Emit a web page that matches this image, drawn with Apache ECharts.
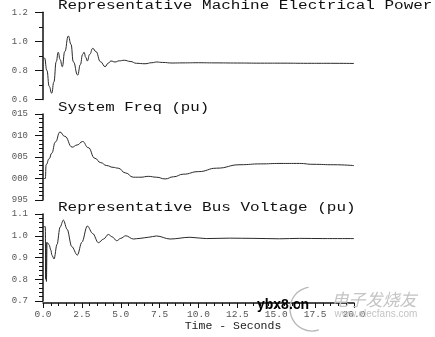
<!DOCTYPE html>
<html>
<head>
<meta charset="utf-8">
<script src="https://cdn.jsdelivr.net/npm/echarts@6/dist/echarts.min.js"></script>
<style>
html,body{margin:0;padding:0;background:#fff;}
#c{width:435px;height:337px;}
</style>
</head>
<body>
<div id="c"></div>
<script>
// ---------- data ----------
var panelTitles = ['Representative Machine Electrical Power', 'System Freq (pu)', 'Representative Bus Voltage (pu)'];
var xAxisTitle = 'Time - Seconds';

var powerTime = [0, 0.1, 0.25, 0.4, 0.56, 0.7, 0.85, 0.98, 1.1, 1.24, 1.4, 1.63, 1.8, 1.95, 2.23, 2.4, 2.55, 2.64, 2.75, 2.85, 3.0, 3.2, 3.4, 3.7, 3.99, 4.2, 4.37, 4.63, 4.9, 5.23, 5.6, 6.02, 6.56, 7.0, 7.3, 7.7, 8.3, 9.0, 10.0, 11.0, 12.5, 14.0, 15.5, 17.0, 18.5, 20.0];
var powerValues = [0.89, 0.885, 0.80, 0.69, 0.643, 0.72, 0.86, 0.925, 0.875, 0.826, 0.93, 1.037, 0.98, 0.86, 0.768, 0.84, 0.91, 0.925, 0.89, 0.865, 0.91, 0.952, 0.93, 0.86, 0.826, 0.85, 0.865, 0.858, 0.866, 0.870, 0.862, 0.849, 0.846, 0.853, 0.858, 0.855, 0.851, 0.852, 0.853, 0.852, 0.851, 0.850, 0.850, 0.849, 0.849, 0.848];

var freqTime = [0, 0.15, 0.2, 0.4, 0.56, 0.8, 1.09, 1.4, 1.88, 2.2, 2.55, 2.9, 3.34, 3.7, 4.10, 4.5, 4.84, 5.3, 5.81, 6.3, 6.77, 7.3, 7.85, 8.4, 9.02, 10.0, 11.17, 12.67, 14.0, 15.24, 16.5, 17.36, 18.7, 20.0];
var freqValues = [1.0000, 1.0000, 1.0032, 1.0046, 1.0059, 1.0085, 1.0108, 1.0098, 1.0073, 1.0078, 1.0086, 1.0072, 1.0047, 1.0037, 1.0030, 1.0026, 1.0024, 1.0013, 1.0003, 1.0003, 1.0005, 1.0003, 0.9999, 1.0004, 1.0010, 1.0016, 1.0024, 1.0032, 1.0034, 1.0035, 1.0035, 1.0033, 1.0032, 1.0030];

var voltTime = [0, 0.15, 0.17, 0.2, 0.22, 0.26, 0.32, 0.4, 0.5, 0.58, 0.71, 0.9, 1.1, 1.31, 1.55, 1.85, 2.21, 2.5, 2.85, 3.2, 3.56, 3.9, 4.2, 4.45, 4.74, 5.0, 5.32, 5.81, 6.24, 6.77, 7.3, 8.17, 9.45, 10.5, 12.0, 13.5, 15.2, 16.5, 18.0, 20.0];
var voltValues = [1.0415, 1.0415, 0.80, 0.97, 0.79, 0.968, 0.966, 0.957, 0.935, 0.91, 0.893, 0.96, 1.04, 1.072, 1.03, 0.95, 0.911, 0.97, 1.045, 1.01, 0.968, 0.985, 1.006, 0.995, 0.977, 0.988, 1.0, 0.985, 0.988, 0.993, 0.999, 0.985, 0.993, 0.987, 0.989, 0.988, 0.986, 0.988, 0.987, 0.987];

var freqTickLabels = ['995', '000', '005', '010', '015'];

// ---------- chart ----------
function pairs(t, v) { return t.map(function (x, i) { return [x, v[i]]; }); }

var labelFont = { fontFamily: 'Liberation Mono, monospace', fontSize: 9, color: '#555' };
var lineCol = '#111';

function yAx(idx, min, max, interval, minorSplit, fmt) {
  return {
    type: 'value', gridIndex: idx, min: min, max: max, interval: interval,
    axisLine: { show: true, lineStyle: { color: lineCol, width: 1.5 } },
    axisTick: { show: true, length: 8, lineStyle: { color: lineCol, width: 1 } },
    minorTick: { show: true, splitNumber: minorSplit, length: 4, lineStyle: { color: lineCol, width: 1 } },
    splitLine: { show: false },
    axisLabel: Object.assign({ margin: 15, formatter: fmt }, labelFont)
  };
}

var chart = echarts.init(document.getElementById('c'), null, { renderer: 'canvas' });
var lineStyle = { color: '#2a2a2a', width: 1 };

chart.setOption({
  animation: false,
  backgroundColor: '#fff',
  grid: [
    { left: 43, width: 311, top: 12.3, height: 87.2 },
    { left: 43, width: 311, top: 114, height: 86 },
    { left: 43, width: 311, top: 214, height: 87 }
  ],
  xAxis: [
    { type: 'value', gridIndex: 0, min: 0, max: 20, show: false },
    { type: 'value', gridIndex: 1, min: 0, max: 20, show: false },
    {
      type: 'value', gridIndex: 2, min: 0, max: 20, interval: 2.5, offset: 2,
      axisLine: { show: true, lineStyle: { color: lineCol, width: 1.5 } },
      axisTick: { show: true, length: 5, lineStyle: { color: lineCol } },
      minorTick: { show: true, splitNumber: 5, length: 3, lineStyle: { color: lineCol } },
      splitLine: { show: false },
      axisLabel: Object.assign({ margin: 6, formatter: function (v) { return v.toFixed(1); } }, labelFont, { fontSize: 9.5 })
    }
  ],
  yAxis: [
    yAx(0, 0.6, 1.2, 0.2, 2, function (v) { return v.toFixed(1); }),
    yAx(1, 0.995, 1.015, 0.005, 5, function (v) { return freqTickLabels[Math.round((v - 0.995) / 0.005)]; }),
    yAx(2, 0.7, 1.1, 0.1, 5, function (v) { return v.toFixed(1); })
  ],
  series: [
    { type: 'line', xAxisIndex: 0, yAxisIndex: 0, data: pairs(powerTime, powerValues), showSymbol: false, symbol: 'none', smooth: 0.5, smoothMonotone: 'x', lineStyle: lineStyle },
    { type: 'line', xAxisIndex: 1, yAxisIndex: 1, data: pairs(freqTime, freqValues), showSymbol: false, symbol: 'none', smooth: 0.5, smoothMonotone: 'x', lineStyle: lineStyle },
    { type: 'line', xAxisIndex: 2, yAxisIndex: 2, data: pairs(voltTime, voltValues), showSymbol: false, symbol: 'none', smooth: 0.35, smoothMonotone: 'x', lineStyle: lineStyle }
  ],
  graphic: [
    { type: 'text', x: 58, y: 6, scaleX: 1.28, style: { text: panelTitles[0], font: '12.5px "Liberation Mono", monospace', fill: '#111', textAlign: 'left', textVerticalAlign: 'middle' } },
    { type: 'text', x: 58, y: 108, scaleX: 1.26, style: { text: panelTitles[1], font: '12.5px "Liberation Mono", monospace', fill: '#111', textAlign: 'left', textVerticalAlign: 'middle' } },
    { type: 'text', x: 58, y: 208, scaleX: 1.28, style: { text: panelTitles[2], font: '12.5px "Liberation Mono", monospace', fill: '#111', textAlign: 'left', textVerticalAlign: 'middle' } },
    { type: 'text', x: 233, y: 326, style: { text: xAxisTitle, font: '11.5px "Liberation Mono", monospace', fill: '#222', textAlign: 'center', textVerticalAlign: 'middle' } },
    { type: 'arc', z: 50, shape: { cx: 312, cy: 309, r: 22, startAngle: Math.PI * 0.4, endAngle: Math.PI * 1.45, clockwise: true }, style: { stroke: '#b8b8b8', fill: null, lineWidth: 1.3 } },
    { type: 'text', z: 60, x: 257, y: 305, style: { text: 'ybx8.cn', font: 'bold 14px "Liberation Sans", Arial, sans-serif', fill: '#000', textAlign: 'left', textVerticalAlign: 'middle' } },
    { type: 'text', z: 55, x: 374, y: 300, style: { text: '电子发烧友', font: 'italic 17px "Noto Sans CJK SC", sans-serif', fill: '#c4c4c4', textAlign: 'center', textVerticalAlign: 'middle' } },
    { type: 'text', z: 55, x: 376, y: 314, style: { text: 'www.elecfans.com', font: '10px "Liberation Sans", Arial, sans-serif', fill: '#c4c4c4', textAlign: 'center', textVerticalAlign: 'middle' } }
  ]
});
</script>
</body>
</html>
